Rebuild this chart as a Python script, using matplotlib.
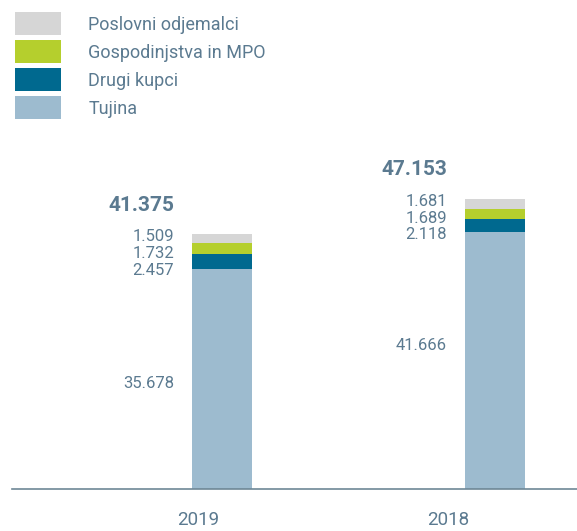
import matplotlib
matplotlib.use("Agg")
import matplotlib.pyplot as plt
from matplotlib.patches import Patch

plt.rcParams["font.family"] = ["Roboto", "DejaVu Sans"]

years = ["2019", "2018"]
series_names = ["Tujina", "Drugi kupci", "Gospodinjstva in MPO", "Poslovni odjemalci"]
tujina = [35.678, 41.666]
drugi_kupci = [2.457, 2.118]
gospodinjstva = [1.732, 1.689]
poslovni = [1.509, 1.681]
totals = [41.375, 47.153]
labels_tujina = ["35.678", "41.666"]
labels_drugi = ["2.457", "2.118"]
labels_gosp = ["1.732", "1.689"]
labels_posl = ["1.509", "1.681"]
labels_total = ["41.375", "47.153"]

colors = ["#9dbbcf", "#00698f", "#b5cf2d", "#d6d6d6"]
text_color = "#5b7a90"

fig = plt.figure(figsize=(5.77, 5.31), dpi=100)
ax = fig.add_axes([12 / 577, 42 / 531, 1 - 12 / 577, 489 / 531])

x = [0, 1]
width = 0.22
stack = [tujina, drugi_kupci, gospodinjstva, poslovni]
bottom = [0, 0]
for vals, c in zip(stack, colors):
    ax.bar(x, vals, width=width, bottom=bottom, color=c, linewidth=0)
    bottom = [b + v for b, v in zip(bottom, vals)]

ax.set_xlim(-0.769, 1.300)
ax.set_ylim(0, 79.4)
for s in ["top", "right", "left"]:
    ax.spines[s].set_visible(False)
ax.spines["bottom"].set_color("#6e8796")
ax.spines["bottom"].set_linewidth(1.2)
ax.set_xticks([])
ax.set_yticks([])

# the main-segment label is not centred the same way on both bars
tujina_nudge = [-3, 11]
for i in range(2):
    left = x[i] - width / 2
    top = bottom[i]
    # small segment labels stacked from the top of the bar
    for k, lab in enumerate([labels_posl[i], labels_gosp[i], labels_drugi[i]]):
        ax.annotate(lab, (left, top), xytext=(-13, -2 - k * 12.0),
                    textcoords="offset points", ha="right", va="center",
                    fontsize=12, color=text_color)
    ax.annotate(labels_tujina[i], (left, tujina[i] / 2), xytext=(-13, tujina_nudge[i]),
                textcoords="offset points", ha="right", va="center",
                fontsize=12, color=text_color)
    ax.annotate(labels_total[i], (left, top), xytext=(-13, 21),
                textcoords="offset points", ha="right", va="center",
                fontsize=15, fontweight="bold", color=text_color)
    ax.annotate(years[i], (x[i], 0), xytext=(-17 - 17 * i, -22),
                textcoords="offset points", ha="center", va="center",
                fontsize=13.5, color=text_color)

handles = [Patch(facecolor=c, edgecolor="none") for c in colors[::-1]]
fig.legend(handles, series_names[::-1], loc="upper left",
           bbox_to_anchor=(15 / 577, 1 - 12 / 531), frameon=False,
           fontsize=13, labelcolor=text_color, handlelength=2.55,
           handleheight=1.6, labelspacing=0.27, handletextpad=1.5,
           borderpad=0, borderaxespad=0)

fig.savefig("out.png", dpi=100)
